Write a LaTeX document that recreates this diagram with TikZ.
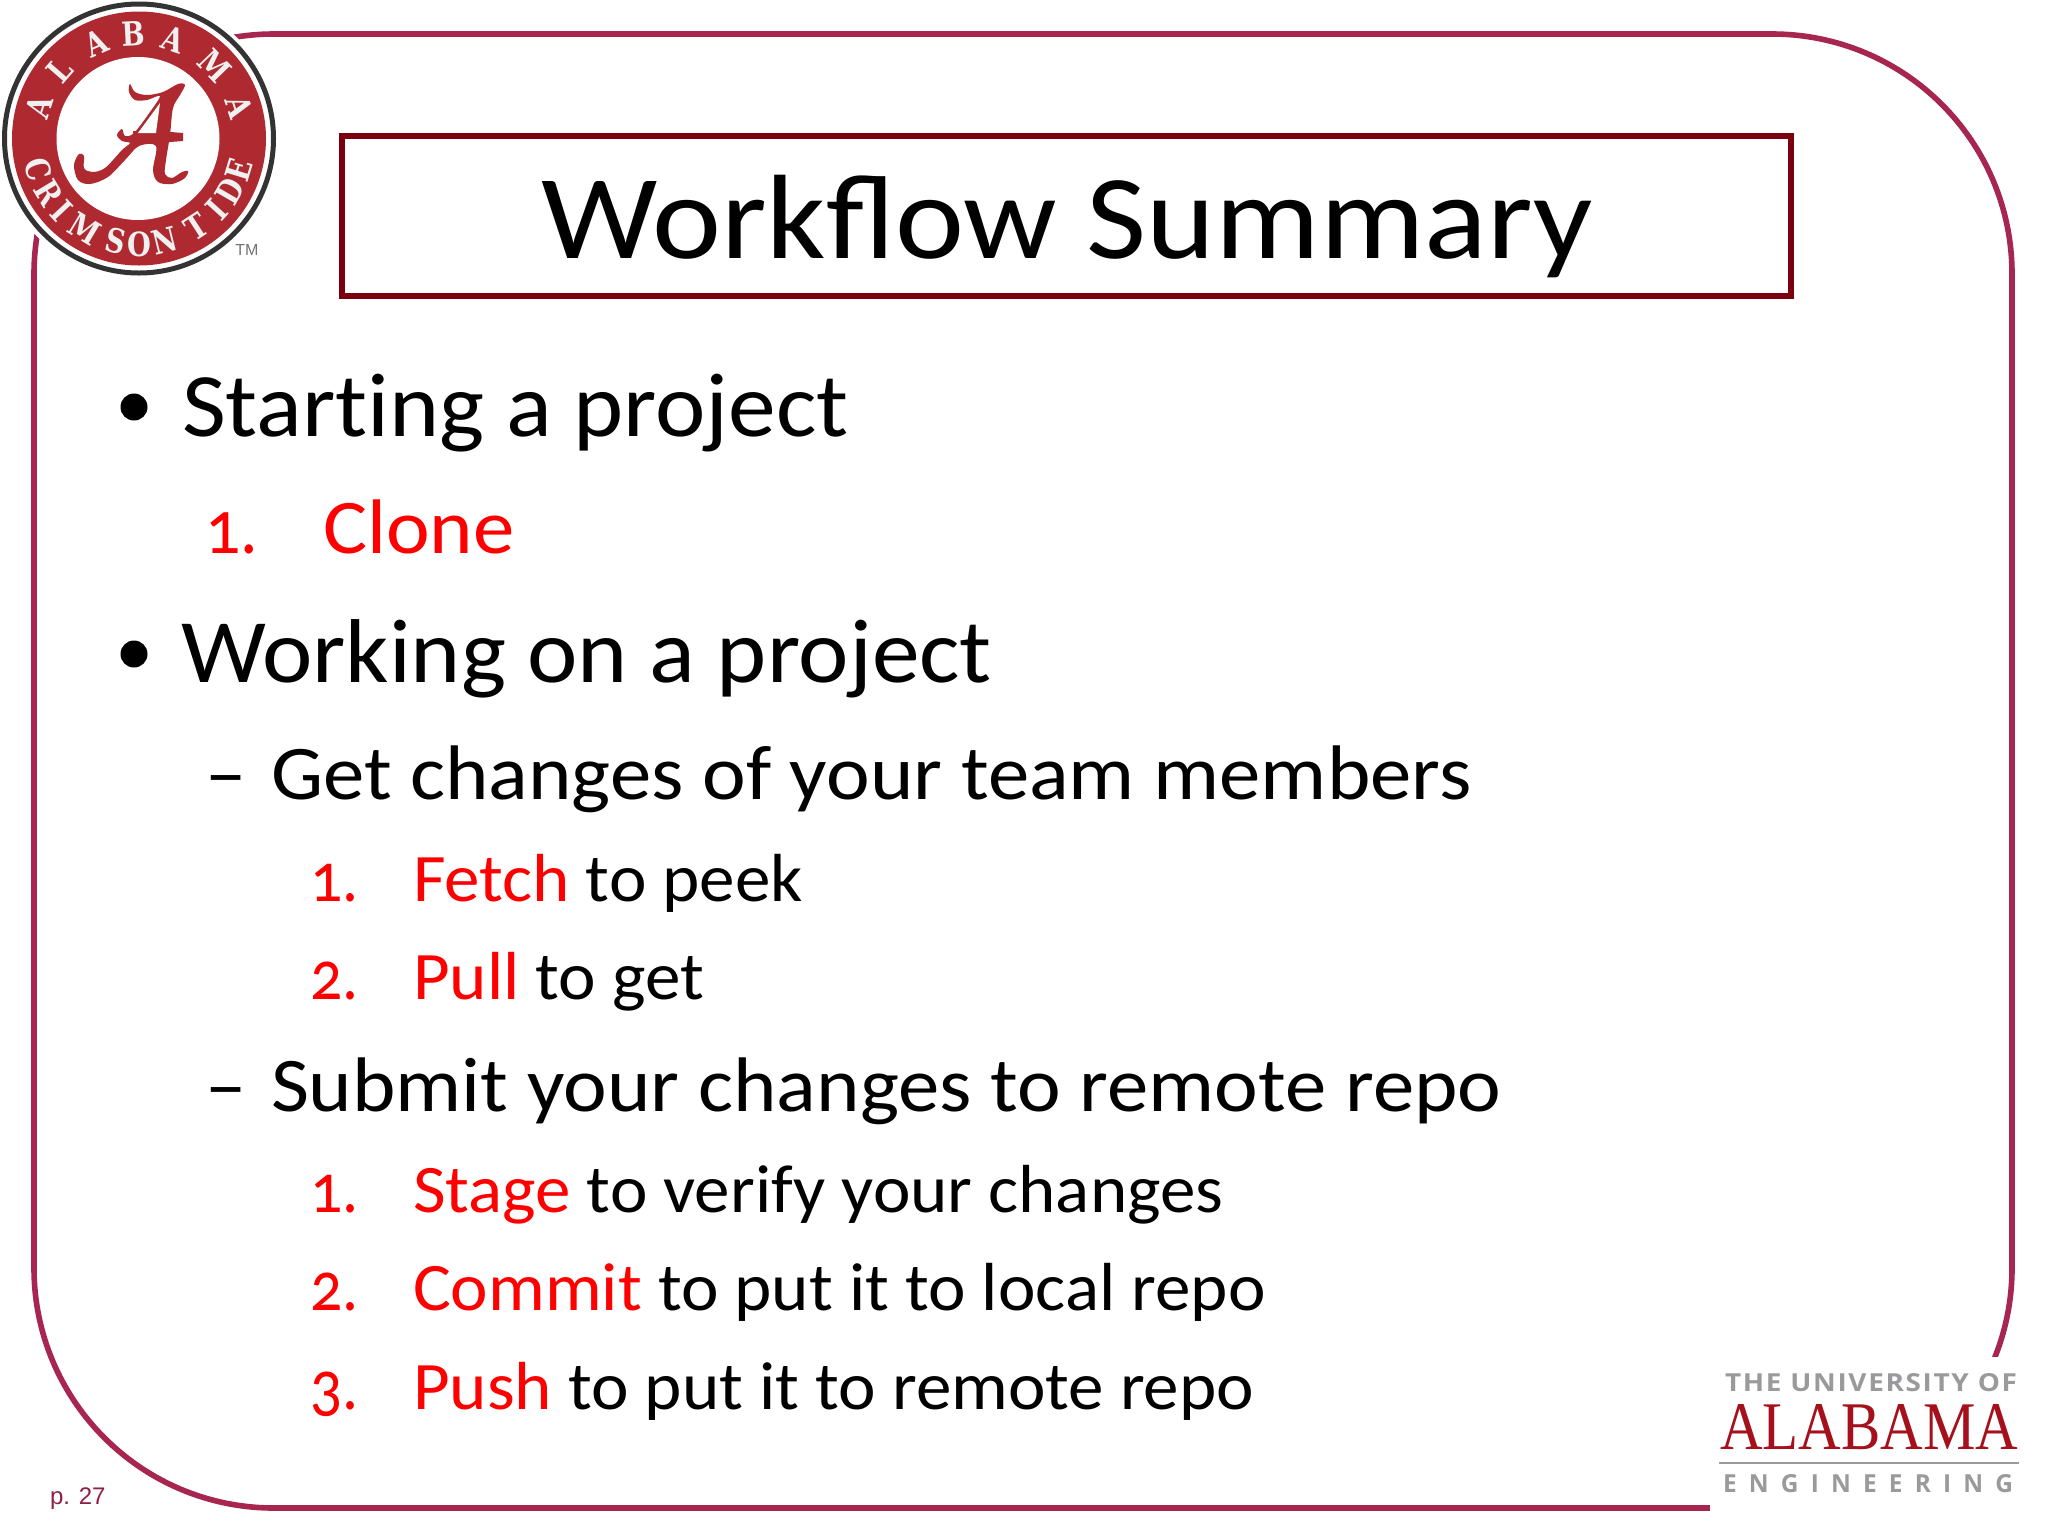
\documentclass[tikz,border=0pt]{standalone}
\usepackage{graphicx}
\usepackage{fontspec}
\setmainfont{Carlito}[Numbers=OldStyle]
\newfontfamily\fbig{Carlito}[Numbers=OldStyle,FakeStretch=1.053]
\newfontfamily\fmid{Carlito}[Numbers=OldStyle,FakeStretch=1.07]
\newfontfamily\fsml{Carlito}[Numbers=OldStyle,FakeStretch=1.045]
\newfontfamily\fnum{Carlito}[Numbers=OldStyle,FakeStretch=0.9]
\newfontfamily\ftit{Carlito}[FakeStretch=1.09]
\newfontfamily\arialf{Liberation Sans}
\newfontfamily\timesf{Liberation Serif}
\newfontfamily\slabf{DejaVu Serif}[FakeStretch=0.82]
\newfontfamily\sansf{Open Sans}
\definecolor{frame}{HTML}{A6264F}
\definecolor{titleb}{HTML}{7A0010}
\definecolor{tide}{HTML}{AE2A30}
\definecolor{ring}{HTML}{333333}
\definecolor{logog}{HTML}{9A9A9C}
\definecolor{alab}{HTML}{A5101C}
\newcommand{\fs}[1]{\fontsize{#1}{#1}\selectfont}
\newcommand{\rd}[1]{\textcolor{red}{#1}}
\tikzset{
 every node/.style={inner sep=0pt,outer sep=0pt},
 lv/.style={anchor=base west,text=black},
 big/.style={lv,font=\fbig\fs{68}},
 mid/.style={lv,font=\fmid\fs{58}},
 sml/.style={lv,font=\fsml\fs{51}},
 numl/.style={anchor=base west,text=red,font=\fnum\fs{58}},
 nums/.style={anchor=base west,text=red,font=\fnum\fs{53}},
 ltr/.style={font=\slabf\bfseries\fs{25},text=white!88!gray}
}
\begin{document}
\begin{tikzpicture}[x=0.75pt,y=-0.75pt]
\useasboundingbox[fill=white] (0,0) rectangle (2048,1536);
% frame
\draw[frame,line width=4.2pt,rounded corners=180pt] (34,34) rectangle (2012,1508);
\fill[white] (1710,1357) rectangle (2048,1536);
% title
\node[draw=titleb,line width=4.5pt,minimum width=1449*0.75pt,minimum height=159.5*0.75pt] (titlebox) at (1066.5,216) {};
\node[anchor=base,font=\ftit\fs{90},text=black] (title) at (1067,258) {Workflow Summary};
% text
\fill[black] (134,407) circle (13.5);
\node[big] (a1) at (182,436) {Start\kern0pt ing a project};
\node[numl] (a2n) at (205,553) {1.};
\node[mid,text=red] (a2) at (323,553) {Clone};
\fill[black] (134,654) circle (13.5);
\node[big] (b1) at (181,682) {Working on a project};
\node[mid] (b2d) at (205,799) {–};
\node[mid] (b2) at (271,799) {Get changes of your team members};
\node[nums] (b3n) at (310,901) {1.};
\node[sml] (b3) at (413,901) {\rd{Fetch} to peek};
\node[nums] (b4n) at (310,999) {2.};
\node[sml] (b4) at (413,999) {\rd{Pull} to get};
\node[mid] (c2d) at (205,1111) {–};
\node[mid] (c2) at (271,1111) {Submit your changes to remote repo};
\node[nums] (c3n) at (310,1212) {1.};
\node[sml] (c3) at (413,1212) {\rd{Stage} to verify your changes};
\node[nums] (c4n) at (310,1310) {2.};
\node[sml] (c4) at (413,1310) {\rd{Commit} to put it to local repo};
\node[nums] (c5n) at (310,1409) {3.};
\node[sml] (c5) at (413,1409) {\rd{Push} to put it to remote repo};
\node[anchor=base west,font=\arialf\fs{18},text=frame!85!black] (pg) at (50,1504) {p. 27};
% crimson tide logo
\fill[white] (139,139) circle (141);
\draw[ring,line width=3.75pt] (139,138.5) circle (134.5);
\fill[tide] (139,138.5) circle (127);
\fill[white] (138,138.5) circle (81.5);
\foreach \c/\a in {A/{-162},L/{-139},A/{-114},B/{-93},A/{-71},M/{-44},A/{-18}}{
  \node[ltr,rotate={-(\a+90)}] at ({139+105*cos(\a)},{139+105*sin(\a)}) {\c};
}
\foreach \c/\a in {C/{163},R/{149},I/{137},M/{121},S/{103},O/{90},N/{76},T/{57},I/{42},D/{30},E/{17}}{
  \node[ltr,rotate={-(\a-90)}] at ({139+105*cos(\a)},{139+105*sin(\a)}) {\c};
}
% script A
\fill[tide] plot[smooth cycle,tension=0.55] coordinates {
 (130,84)(135,92)(147,95)(163,92)(178,84)(185,85)(180,95)(173,108)(170,135)(166,160)(165,174)(172,178)(182,172)(188,171)(185,178)(172,184)(158,182)(153,170)(156,146)(139,146)(125,160)(108,177)(90,184)(78,180)(74,165)(79,154)(84,156)(84,168)(92,172)(105,168)(122,150)(130,143)(122,141)(117,135)(122,129)(125,136)(134,133)(150,112)(160,96)(147,100)(135,100)(129,92)};
\fill[tide] (133,131) -- (158,131) -- (183,133) -- (183,141) -- (158,143) -- (133,143) -- cycle;
\fill[white] (160,103) -- (156,133) -- (138,133) -- cycle;
\node[font=\arialf\fs{12},text=black!55,anchor=center] (tm) at (247,250) {TM};
% engineering logo
\node[anchor=south west,text=logog] (u1) at (1725,1392) {\resizebox{219pt}{13.5pt}{\sansf\bfseries\addfontfeatures{LetterSpace=6}THE UNIVERSITY OF}};
\node[anchor=south west,text=alab] (u2) at (1720,1450) {\resizebox{223.5pt}{33.75pt}{\timesf ALABAMA}};
\draw[logog,line width=1.6pt] (1719,1463) -- (2019,1463);
\node[anchor=south west,text=logog] (u3) at (1723,1493) {\resizebox{217.5pt}{13.5pt}{\sansf\bfseries\addfontfeatures{LetterSpace=50}ENGINEERING}};
\end{tikzpicture}
\end{document}
